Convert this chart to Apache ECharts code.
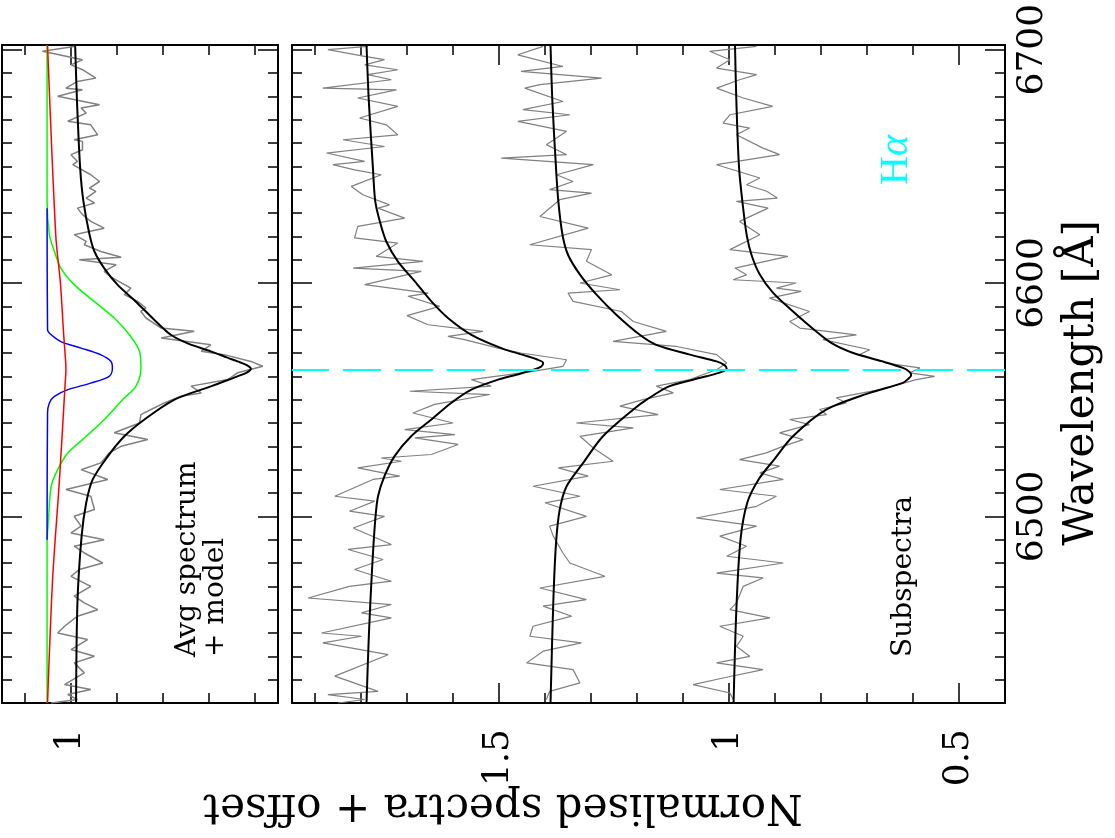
<!DOCTYPE html>
<html>
<head>
<meta charset="utf-8">
<script src="https://cdn.jsdelivr.net/npm/echarts@6/dist/echarts.min.js"></script>
<style>
html,body{margin:0;padding:0;background:#fff;}
#chart{width:1115px;height:838px;}
</style>
</head>
<body>
<div id="chart"></div>
<script>
// ---------- Axis ticks / labels ----------
var waveMinorTicks = [6430,6440,6450,6460,6470,6480,6490,6500,6510,6520,6530,6540,6550,6560,6570,6580,6590,6600,6610,6620,6630,6640,6650,6660,6670,6680,6690,6700];
var waveMajorTicks = [6500,6600,6700];
var avgFluxMinorTicks = [0.6,0.7,0.8,0.9,1.0,1.1];
var avgFluxMajorTicks = [1.0];
var avgFluxLabels = [1];
var subFluxMinorTicks = [0.5,0.6,0.7,0.8,0.9,1.0,1.1,1.2,1.3,1.4,1.5,1.6,1.7,1.8,1.9];
var subFluxMajorTicks = [0.5,1.0,1.5];
var subFluxLabels = [0.5,1,1.5];
var halphaWave = 6563;

// ---------- Top panel: average spectrum ----------
var avgWave = [6701.4,6699.3,6695.7,6693.5,6691.4,6687.8,6686.4,6683.5,6682.8,6680.0,6676.4,6675.0,6672.8,6669.3,6667.8,6663.5,6661.4,6660.7,6657.1,6655.0,6652.1,6650.7,6646.4,6643.5,6640.7,6639.3,6636.4,6634.3,6632.1,6629.3,6626.4,6623.5,6620.7,6617.8,6616.4,6613.5,6611.0,6610.0,6607.8,6605.0,6602.1,6597.8,6595.0,6592.1,6589.3,6587.8,6585.0,6580.7,6579.3,6576.4,6573.5,6570.7,6569.3,6566.4,6564.3,6561.5,6558.6,6555.8,6552.9,6551.5,6548.6,6545.8,6543.6,6540.0,6535.8,6532.9,6530.0,6527.2,6522.9,6520.0,6515.8,6511.5,6508.6,6502.9,6500.0,6495.8,6492.9,6490.0,6487.2,6484.3,6480.0,6477.2,6474.3,6470.0,6465.8,6462.9,6460.0,6457.2,6452.9,6450.0,6447.2,6442.9,6440.0,6437.2,6432.9,6430.0,6427.9,6425.8,6423.6,6421.5,6420.0];
var avgFlux = [0.993,1.062,0.975,1.000,0.975,0.946,0.986,1.011,0.975,1.029,0.938,0.978,0.967,1.007,0.957,0.942,0.993,0.975,0.975,1.000,0.986,0.996,0.957,0.938,0.960,0.946,0.967,0.949,0.986,0.975,0.957,0.928,0.993,0.967,0.971,0.935,0.891,0.982,0.902,0.928,0.909,0.870,0.884,0.855,0.837,0.848,0.837,0.804,0.732,0.804,0.696,0.717,0.667,0.609,0.583,0.638,0.659,0.739,0.717,0.761,0.797,0.826,0.848,0.851,0.906,0.833,0.891,0.917,0.935,0.978,0.920,1.011,0.957,0.949,0.993,0.978,1.000,0.928,0.993,0.971,0.931,0.982,1.000,0.957,0.993,0.971,0.942,0.986,1.014,1.029,0.964,1.000,0.949,0.993,0.971,0.996,1.014,0.957,1.007,0.986,1.043];

var avgModelWave = [6702,6678,6649,6635,6621,6613.5,6606.4,6599.3,6592,6585,6577.8,6574,6570.7,6568,6566.4,6564.8,6563.3,6561.6,6560,6558,6555.7,6550,6541.4,6534.3,6525.7,6515.7,6505.7,6491.4,6463,6420];
var avgModelFlux = [0.991,0.987,0.980,0.973,0.960,0.949,0.928,0.899,0.859,0.823,0.783,0.745,0.696,0.660,0.638,0.618,0.609,0.618,0.638,0.665,0.696,0.775,0.841,0.884,0.920,0.953,0.967,0.977,0.986,0.989];

var greenWave = [6702,6635,6620.7,6613.5,6606.4,6599.3,6592,6585,6577.8,6570.7,6563.5,6555.7,6550,6541.4,6534.3,6527.1,6520,6512.9,6498.6,6488.6,6420];
var greenFlux = [1.052,1.052,1.047,1.036,1.022,0.993,0.949,0.906,0.873,0.851,0.848,0.859,0.888,0.928,0.967,1.007,1.029,1.043,1.049,1.052,1.052];

var blueWave = [6632,6580,6577.8,6574.9,6572.1,6569.2,6566.4,6563.5,6560,6557.1,6554.3,6551.4,6548.6,6544.3,6490];
var blueFlux = [1.052,1.051,1.043,1.022,0.978,0.935,0.913,0.910,0.917,0.957,1.007,1.036,1.047,1.051,1.052];

var redWave = [6702,6620,6600,6578,6570,6563,6556,6516,6473,6420];
var redFlux = [1.051,1.033,1.023,1.016,1.013,1.011,1.013,1.025,1.040,1.051];

// ---------- Bottom panel: subspectra ----------
var specAWave = [6701.4,6700.0,6697.1,6695.7,6693.5,6691.4,6689.3,6687.1,6683.5,6682.8,6679.3,6675.7,6670.7,6667.8,6663.5,6661.4,6658.5,6655.7,6652.1,6650.7,6648.5,6646.4,6641.4,6637.8,6633.5,6632.1,6627.8,6624.3,6619.3,6617.1,6611.4,6609.3,6606.4,6605.0,6599.3,6595.7,6594.3,6590.0,6586.0,6582.1,6579.3,6577.1,6575.7,6572.1,6570.0,6567.1,6564.3,6562.2,6558.6,6555.8,6553.6,6552.2,6548.0,6544.3,6540.0,6537.2,6535.0,6533.6,6530.8,6526.5,6525.0,6523.6,6520.8,6517.2,6515.8,6508.6,6506.5,6502.2,6500.0,6495.0,6487.9,6485.8,6481.5,6477.2,6472.2,6470.0,6465.0,6462.2,6458.6,6456.5,6450.0,6448.6,6445.8,6440.7,6431.5,6425.0,6423.6,6421.5,6420.0];
var specAFlux = [1.785,1.872,1.792,1.749,1.792,1.720,1.785,1.734,1.883,1.723,1.807,1.720,1.803,1.745,1.720,1.839,1.749,1.875,1.792,1.861,1.814,1.756,1.821,1.796,1.738,1.763,1.705,1.807,1.814,1.720,1.767,1.665,1.817,1.669,1.792,1.654,1.698,1.629,1.700,1.654,1.535,1.611,1.575,1.502,1.452,1.353,1.361,1.423,1.560,1.517,1.694,1.520,1.640,1.687,1.600,1.705,1.596,1.683,1.589,1.647,1.756,1.712,1.807,1.716,1.774,1.857,1.770,1.825,1.749,1.817,1.734,1.828,1.752,1.814,1.734,1.825,1.915,1.734,1.799,1.734,1.886,1.799,1.883,1.741,1.857,1.763,1.872,1.792,1.850];
var modelAWave = [6702,6678,6649,6635,6626.4,6617.8,6609.3,6600.7,6592.1,6585,6577.8,6572.1,6569.3,6567.3,6565.7,6564.2,6562.9,6560.8,6558.6,6554.3,6548.6,6541.5,6534.3,6525.8,6517.2,6508.6,6498.6,6477.2,6448.6,6420];
var modelAFlux = [1.788,1.783,1.774,1.769,1.759,1.745,1.720,1.683,1.647,1.611,1.560,1.495,1.450,1.418,1.404,1.408,1.423,1.460,1.502,1.560,1.604,1.647,1.691,1.727,1.749,1.763,1.769,1.776,1.783,1.788];

var specBWave = [6701.4,6697.8,6692.8,6690.7,6687.8,6685.0,6683.5,6677.8,6674.3,6672.1,6669.3,6665.0,6659.3,6655.0,6653.5,6650.7,6646.4,6643.5,6640.0,6638.5,6635.7,6628.5,6623.5,6616.4,6614.3,6609.3,6603.5,6600.0,6597.1,6595.7,6592.1,6587.8,6583.5,6579.3,6575.0,6572.8,6569.3,6565.7,6562.8,6560.8,6558.6,6555.8,6552.9,6550.0,6547.2,6543.6,6540.0,6537.9,6534.3,6529.3,6523.6,6520.8,6517.2,6512.9,6508.6,6505.8,6500.0,6495.8,6491.5,6484.3,6480.0,6474.3,6469.3,6464.3,6461.5,6457.2,6452.9,6448.6,6445.8,6442.2,6437.2,6434.3,6428.6,6425.0,6421.5];
var specBFlux = [1.404,1.459,1.361,1.452,1.277,1.411,1.444,1.361,1.448,1.346,1.459,1.353,1.397,1.353,1.495,1.295,1.375,1.339,1.390,1.299,1.368,1.411,1.306,1.433,1.299,1.310,1.255,1.324,1.237,1.350,1.339,1.234,1.208,1.136,1.252,1.114,1.027,1.005,1.027,1.056,1.085,1.158,1.121,1.187,1.237,1.154,1.332,1.208,1.324,1.295,1.252,1.371,1.306,1.426,1.324,1.400,1.310,1.390,1.382,1.361,1.346,1.270,1.411,1.310,1.404,1.342,1.426,1.433,1.321,1.404,1.440,1.339,1.324,1.390,1.397];
var modelBWave = [6702,6678,6649,6635,6620.7,6612.1,6603.6,6595,6586.4,6577.8,6573.5,6569.3,6566.4,6564.8,6563.3,6561.8,6560,6555.8,6550,6545.8,6534.3,6522.9,6512.9,6502.9,6488.6,6463,6420];
var modelBFlux = [1.388,1.384,1.376,1.371,1.362,1.350,1.324,1.288,1.245,1.194,1.158,1.085,1.027,1.010,1.005,1.018,1.049,1.129,1.179,1.208,1.274,1.317,1.353,1.368,1.376,1.382,1.388];

var specCWave = [6701.4,6699.3,6695.7,6692.1,6689.3,6687.1,6683.5,6679.3,6675.7,6672.1,6668.5,6666.4,6663.5,6657.8,6655.0,6650.7,6645.0,6642.1,6639.3,6636.4,6635.0,6632.1,6626.4,6620.7,6614.3,6611.4,6606.4,6603.5,6601.4,6600.0,6597.8,6596.4,6593.5,6587.8,6583.5,6580.7,6577.8,6575.7,6571.4,6569.3,6565.7,6563.6,6561.5,6560.0,6558.6,6554.3,6550.8,6548.6,6545.8,6543.6,6541.5,6539.3,6535.8,6532.9,6530.0,6527.2,6524.3,6521.5,6518.6,6515.8,6511.5,6508.6,6504.3,6499.3,6495.8,6491.5,6487.2,6482.9,6480.0,6475.7,6473.6,6470.0,6462.9,6460.0,6456.5,6452.9,6448.6,6444.3,6440.0,6437.2,6434.3,6430.7,6427.9,6424.3,6421.5];
var specCFlux = [0.940,1.042,0.998,1.027,0.940,0.977,1.027,0.969,0.905,0.998,1.013,0.955,0.984,0.926,0.890,1.027,0.933,0.962,0.918,0.895,0.984,0.915,0.977,0.933,0.998,0.872,0.987,0.962,0.991,0.854,0.897,0.843,0.912,0.825,0.868,0.846,0.723,0.796,0.694,0.716,0.658,0.585,0.607,0.553,0.593,0.672,0.767,0.745,0.803,0.788,0.868,0.825,0.890,0.839,0.883,0.919,0.977,0.890,0.933,0.882,1.020,0.897,0.940,1.071,0.940,1.020,0.962,1.005,0.882,1.027,0.926,0.969,0.984,0.998,0.911,1.020,0.969,0.984,0.955,1.027,0.926,1.013,1.078,0.998,0.991];
var modelCWave = [6702,6678,6649,6630,6620,6612,6604,6596,6588,6580,6574,6570,6566.5,6563.6,6562,6560.5,6559,6557.2,6552.9,6545.8,6534.3,6524.3,6516,6506,6490,6460,6420];
var modelCFlux = [0.987,0.984,0.978,0.968,0.961,0.951,0.934,0.905,0.862,0.815,0.775,0.730,0.668,0.622,0.608,0.604,0.610,0.622,0.694,0.788,0.861,0.902,0.935,0.960,0.975,0.984,0.990];

// ---------- helpers ----------
function pairs(flux, wave) {
  var out = [];
  for (var i = 0; i < flux.length; i++) out.push([flux[i], wave[i]]);
  return out;
}
var FONT = 'DejaVu Serif';
var WMIN = 6420, WMAX = 6702;
function plainNum(v) { return String(Math.round(v * 1000) / 1000); }

function fluxAxis(grid, pos, min, max, ticks, len, labels, showLine) {
  return {
    gridIndex: grid, type: 'value', min: min, max: max, inverse: true, position: pos,
    axisLine: { show: showLine, onZero: false, lineStyle: { color: '#000', width: 2 } },
    axisTick: { show: true, inside: true, length: len, customValues: ticks, lineStyle: { color: '#000', width: 1.5 } },
    axisLabel: labels ? { show: true, customValues: labels, rotate: 90, margin: 26, fontSize: 36, fontFamily: FONT, color: '#000', formatter: plainNum } : { show: false },
    splitLine: { show: false }
  };
}
function waveAxis(grid, pos, ticks, len, labels, showLine) {
  return {
    gridIndex: grid, type: 'value', min: WMIN, max: WMAX, position: pos,
    axisLine: { show: showLine, onZero: false, lineStyle: { color: '#000', width: 2 } },
    axisTick: { show: true, inside: true, length: len, customValues: ticks, lineStyle: { color: '#000', width: 1.5 } },
    axisLabel: labels ? { show: true, customValues: labels, rotate: 90, margin: 10, fontSize: 36, fontFamily: FONT, color: '#000', formatter: plainNum } : { show: false },
    splitLine: { show: false }
  };
}

var xAxes = [
  fluxAxis(0, 'bottom', 0.55, 1.15, avgFluxMinorTicks, 10, avgFluxLabels, true),
  fluxAxis(0, 'bottom', 0.55, 1.15, avgFluxMajorTicks, 20, null, false),
  fluxAxis(0, 'top', 0.55, 1.15, avgFluxMinorTicks, 10, null, true),
  fluxAxis(0, 'top', 0.55, 1.15, avgFluxMajorTicks, 20, null, false),
  fluxAxis(1, 'bottom', 0.40, 1.95, subFluxMinorTicks, 10, subFluxLabels, true),
  fluxAxis(1, 'bottom', 0.40, 1.95, subFluxMajorTicks, 20, null, false),
  fluxAxis(1, 'top', 0.40, 1.95, subFluxMinorTicks, 10, null, true),
  fluxAxis(1, 'top', 0.40, 1.95, subFluxMajorTicks, 20, null, false)
];
var yAxes = [
  waveAxis(0, 'left', waveMinorTicks, 10, null, true),
  waveAxis(0, 'left', waveMajorTicks, 20, null, false),
  waveAxis(0, 'right', waveMinorTicks, 10, null, true),
  waveAxis(0, 'right', waveMajorTicks, 20, null, false),
  waveAxis(1, 'left', waveMinorTicks, 10, null, true),
  waveAxis(1, 'left', waveMajorTicks, 20, null, false),
  waveAxis(1, 'right', waveMinorTicks, 10, waveMajorTicks, true),
  waveAxis(1, 'right', waveMajorTicks, 20, null, false)
];

function lineSeries(name, xi, yi, data, color, width, z) {
  return {
    name: name, type: 'line', xAxisIndex: xi, yAxisIndex: yi, data: data,
    showSymbol: false, symbol: 'none', smooth: false, z: z,
    lineStyle: { color: color, width: width }, animation: false, silent: true
  };
}

var series = [
  lineSeries('avg', 0, 0, pairs(avgFlux, avgWave), '#808080', 1.5, 2),
  lineSeries('avgModel', 0, 0, pairs(avgModelFlux, avgModelWave), '#000000', 2, 3),
  lineSeries('green', 0, 0, pairs(greenFlux, greenWave), '#00ff00', 1.5, 4),
  lineSeries('blue', 0, 0, pairs(blueFlux, blueWave), '#0000ff', 1.5, 5),
  lineSeries('red', 0, 0, pairs(redFlux, redWave), '#ff0000', 1.5, 6),
  lineSeries('specA', 4, 4, pairs(specAFlux, specAWave), '#808080', 1.2, 2),
  lineSeries('specB', 4, 4, pairs(specBFlux, specBWave), '#808080', 1.2, 2),
  lineSeries('specC', 4, 4, pairs(specCFlux, specCWave), '#808080', 1.2, 2),
  lineSeries('modelA', 4, 4, pairs(modelAFlux, modelAWave), '#000000', 2, 3),
  lineSeries('modelB', 4, 4, pairs(modelBFlux, modelBWave), '#000000', 2, 3),
  lineSeries('modelC', 4, 4, pairs(modelCFlux, modelCWave), '#000000', 2, 3)
];
['avgModel','modelA','modelB','modelC','green','blue','red'].forEach(function(n){
  series.forEach(function(s){ if (s.name === n) s.smooth = 0.3; });
});
series[series.length - 1].markLine = {
  silent: true, symbol: 'none', animation: false,
  label: { show: false },
  lineStyle: { color: '#00ffff', type: [38, 14], width: 2 },
  data: [{ yAxis: halphaWave }]
};

var chart = echarts.init(document.getElementById('chart'), null, { renderer: 'canvas' });
chart.setOption({
  backgroundColor: '#ffffff',
  animation: false,
  grid: [
    { left: 2, top: 45, width: 276, height: 658, containLabel: false },
    { left: 292, top: 45, width: 713, height: 658, containLabel: false }
  ],
  xAxis: xAxes,
  yAxis: yAxes,
  series: series,
  graphic: [
    { type: 'text', x: 503, y: 806, rotation: Math.PI, silent: true,
      style: { text: 'Normalised spectra + offset', fontSize: 42, fontFamily: FONT, fill: '#000', align: 'center', verticalAlign: 'middle' } },
    { type: 'text', x: 1082, y: 383, rotation: Math.PI / 2, silent: true,
      style: { text: 'Wavelength [Å]', fontSize: 42, fontFamily: FONT, fill: '#000', align: 'center', verticalAlign: 'middle' } },
    { type: 'text', x: 202, y: 657, rotation: Math.PI / 2, silent: true,
      style: { text: 'Avg spectrum\n+ model', fontSize: 28, lineHeight: 28, fontFamily: FONT, fill: '#000', align: 'left', verticalAlign: 'middle' } },
    { type: 'text', x: 904, y: 657, rotation: Math.PI / 2, silent: true,
      style: { text: 'Subspectra', fontSize: 28, fontFamily: FONT, fill: '#000', align: 'left', verticalAlign: 'middle' } },
    { type: 'text', x: 896, y: 160, rotation: Math.PI / 2, silent: true,
      style: { text: '{h|H}{a|α}', align: 'center', verticalAlign: 'middle',
        rich: { h: { fontSize: 40, fontFamily: 'Liberation Serif', fill: '#00ffff', color: '#00ffff' },
                a: { fontSize: 40, fontFamily: 'Liberation Serif', fontStyle: 'italic', fill: '#00ffff', color: '#00ffff' } } } }
  ]
});
</script>
</body>
</html>
